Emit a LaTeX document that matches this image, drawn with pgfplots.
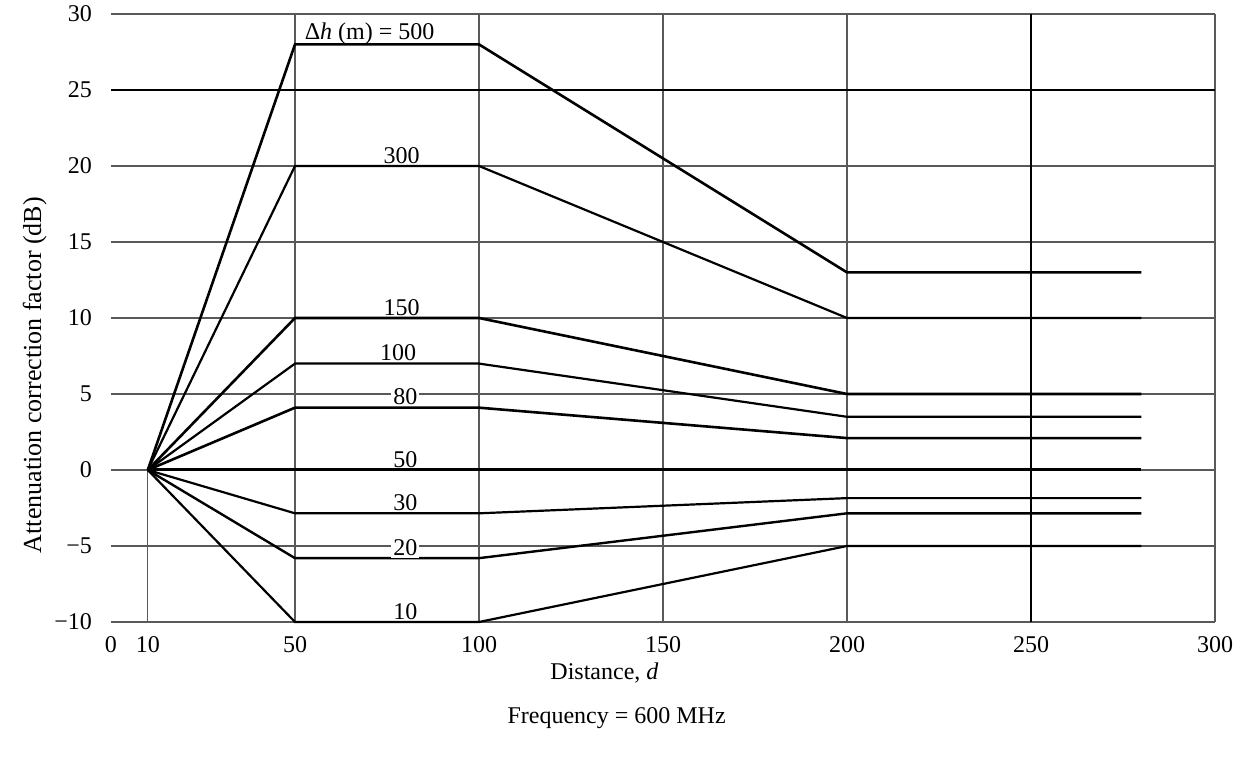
\documentclass[border=0pt]{standalone}
\usepackage{fontspec}
\setmainfont{Liberation Serif}
\usepackage{pgfplots}
\pgfplotsset{compat=1.18}
\begin{document}
\begin{tikzpicture}[x=1pt,y=1pt]
\useasboundingbox (0,0) rectangle (624,380);
\begin{axis}[
  at={(55.5pt,69pt)}, anchor=south west,
  scale only axis, width=552pt, height=304pt,
  xmin=0,xmax=300,ymin=-10,ymax=30,
  axis line style={draw=none},
  xtick={0,10,50,100,150,200,250,300},
  xticklabels={0,10,50,100,150,200,250,300},
  ytick={-10,-5,...,30},
  yticklabels={−10,−5,0,5,10,15,20,25,30},
  major tick length=0pt,
  ymajorgrids, grid style={line width=0.7pt, color=black!65},
  tick label style={font=\fontsize{12}{14}\selectfont},
  xticklabel style={yshift=-3.5pt},
  yticklabel style={xshift=-6pt},
  xlabel={Distance, \textit{d}},
  ylabel={Attenuation correction factor (dB)},
  label style={font=\fontsize{12}{14}\selectfont},
  xlabel style={at={(axis description cs:0.447,-0.084)}, anchor=center},
  ylabel style={at={(axis description cs:-0.069,0.406)}, anchor=center, font=\fontsize{13}{15}\selectfont},
  clip=false,
]
% vertical grid lines
\draw[line width=0.7pt, black!65] (axis cs:50,-10) -- (axis cs:50,30);
\draw[line width=0.7pt, black!65] (axis cs:100,-10) -- (axis cs:100,30);
\draw[line width=0.7pt, black!65] (axis cs:150,-10) -- (axis cs:150,30);
\draw[line width=0.7pt, black!65] (axis cs:200,-10) -- (axis cs:200,30);
\draw[line width=1.2pt, black] (axis cs:250,-10) -- (axis cs:250,30);
\draw[line width=0.7pt, black!65] (axis cs:300,-10) -- (axis cs:300,30);
\draw[line width=0.7pt, black!65] (axis cs:10,-10) -- (axis cs:10,0);
\draw[line width=1.1pt, black] (axis cs:0,25) -- (axis cs:300,25);

% curves
\addplot[black, line width=1.3pt] coordinates {(10,0) (50,28) (100,28) (200,13) (280,13)};
\addplot[black, line width=1.1pt] coordinates {(10,0) (50,20) (100,20) (200,10) (280,10)};
\addplot[black, line width=1.3pt] coordinates {(10,0) (50,10) (100,10) (200,5) (280,5)};
\addplot[black, line width=1.1pt] coordinates {(10,0) (50,7) (100,7) (200,3.5) (280,3.5)};
\addplot[black, line width=1.3pt] coordinates {(10,0) (50,4.1) (100,4.1) (200,2.1) (280,2.1)};
\addplot[black, line width=1.5pt] coordinates {(10,0) (50,0) (100,0) (200,0) (280,0)};
\addplot[black, line width=1.1pt] coordinates {(10,0) (50,-2.85) (100,-2.85) (200,-1.85) (280,-1.85)};
\addplot[black, line width=1.2pt] coordinates {(10,0) (50,-5.8) (100,-5.8) (200,-2.85) (280,-2.85)};
\addplot[black, line width=1.1pt] coordinates {(10,0) (50,-10) (100,-10) (200,-5) (280,-5)};

% curve labels
\tikzset{lbl/.style={font=\fontsize{12}{14}\selectfont, inner sep=1pt}}
\node[lbl, anchor=base west] at (axis cs:52,28.35) {Δ\textit{h} (m) = 500};
\node[lbl, anchor=south] at (axis cs:79,20) {300};
\node[lbl, anchor=south] at (axis cs:79,10) {150};
\node[lbl, anchor=south] at (axis cs:78,7) {100};
\node[lbl, anchor=center, fill=white] at (axis cs:80,4.85) {80};
\node[lbl, anchor=south] at (axis cs:80,0) {50};
\node[lbl, anchor=south] at (axis cs:80,-2.85) {30};
\node[lbl, anchor=center, fill=white] at (axis cs:80,-5.1) {20};
\node[lbl, anchor=south] at (axis cs:80,-10) {10};

\node[font=\fontsize{12}{14}\selectfont, anchor=center] at (axis description cs:0.458,-0.158) {Frequency = 600 MHz};
\end{axis}
\end{tikzpicture}
\end{document}
